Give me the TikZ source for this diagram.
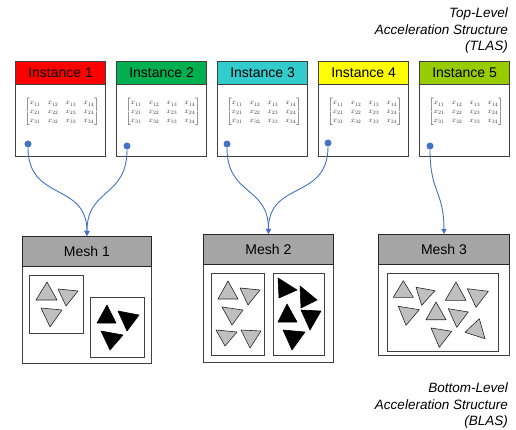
\documentclass[tikz,border=0pt]{standalone}
\usepackage[no-math]{fontspec}
\usepackage{amsmath}
\usetikzlibrary{arrows.meta}
\newfontfamily\arialf{Liberation Sans}
\definecolor{cRed}{HTML}{FF0000}
\definecolor{cGreen}{HTML}{00B050}
\definecolor{cTeal}{HTML}{33CCCC}
\definecolor{cYellow}{HTML}{FFFF00}
\definecolor{cLime}{HTML}{99CC00}
\definecolor{cHead}{HTML}{A6A6A6}
\definecolor{cTri}{HTML}{BFBFBF}
\definecolor{cBlue}{HTML}{4472C4}
\newcommand\mymat{$\begin{bmatrix}
x_{11} & x_{12} & x_{13} & x_{14}\\
x_{21} & x_{22} & x_{23} & x_{24}\\
x_{31} & x_{32} & x_{33} & x_{34}
\end{bmatrix}$}
\newcommand\gtri[3]{\filldraw[gtri] #1 -- #2 -- #3 -- cycle;}
\newcommand\btri[3]{\filldraw[btri] #1 -- #2 -- #3 -- cycle;}
\begin{document}
\begin{tikzpicture}[x=1pt,y=-1pt,
  insthead/.style={draw=black!75, line width=1.1pt, minimum width=90pt, minimum height=23pt,
    anchor=north west, inner sep=0pt, font=\arialf\fontsize{14}{16}\selectfont},
  instbody/.style={draw=black!75, line width=1.1pt, minimum width=90pt, minimum height=72pt,
    anchor=north west, inner sep=0pt},
  meshhead/.style={draw=black!85, line width=0.9pt, fill=cHead, minimum height=30pt,
    anchor=north west, inner sep=0pt, font=\arialf\fontsize{14}{16}\selectfont},
  meshbody/.style={draw=black!75, line width=0.9pt, anchor=north west, inner sep=0pt},
  innerbox/.style={draw=black!75, line width=0.8pt},
  gtri/.style={fill=cTri, draw=black!85, line width=0.6pt, line join=round},
  btri/.style={fill=black, draw=black, line width=0.6pt, line join=round},
  mat/.style={scale=0.74, text=black!80, inner sep=0pt},
  dot/.style={circle, fill=cBlue, inner sep=0pt, minimum size=7pt},
  conn/.style={draw=cBlue, line width=0.9pt},
  arr/.style={conn, -{Triangle[length=5pt,width=5pt]}},
  side/.style={font=\arialf\itshape\fontsize{13.5}{16.5}\selectfont, align=right, inner sep=0pt, text=black}
]
\useasboundingbox (0,0) rectangle (516,430);

% Instances
\foreach \i/\x/\c in {1/15/cRed,2/116/cGreen,3/217/cTeal,4/318/cYellow,5/419/cLime}{
  \node[instbody] (b\i) at (\x,84) {};
  \node[insthead, fill=\c] (h\i) at (\x,61) {Instance \i};
  \node[mat] (mx\i) at (\x+47,112) {\mymat};
}
\node[dot] (d1) at (28,144) {};
\node[dot] (d2) at (127,146) {};
\node[dot] (d3) at (227,144) {};
\node[dot] (d4) at (328,143) {};
\node[dot] (d5) at (430,146) {};

% Meshes
\node[meshbody, minimum width=129pt, minimum height=97pt] (mb1) at (22,266) {};
\node[meshhead, minimum width=129pt] (m1) at (22,236) {Mesh 1};
\node[meshbody, minimum width=130pt, minimum height=98pt] (mb2) at (203,264) {};
\node[meshhead, minimum width=130pt] (m2) at (203,234) {Mesh 2};
\node[meshbody, minimum width=131pt, minimum height=91pt] (mb3) at (378,264) {};
\node[meshhead, minimum width=131pt] (m3) at (378,234) {Mesh 3};

% Connectors
\draw[arr] (d1) to[out=-90,in=90,looseness=1.3] (m1.north);
\draw[arr] (d2) to[out=-90,in=90,looseness=1.3] (m1.north);
\draw[arr] (d3) to[out=-90,in=90,looseness=1.3] (m2.north);
\draw[arr] (d4) to[out=-90,in=90,looseness=1.3] (m2.north);
\draw[arr] (d5) to[out=-90,in=90,looseness=1.3] (m3.north);

% Mesh 1 contents
\draw[innerbox] (29,275) rectangle (83,333);
\gtri{(47,282)}{(36,300)}{(57,300)}
\gtri{(58,289)}{(78,291)}{(66,306)}
\gtri{(41,308)}{(62,310)}{(50,327)}
\draw[innerbox] (90,297) rectangle (144,357);
\btri{(107,305)}{(97,323)}{(116,323)}
\btri{(118,311)}{(139,315)}{(127,331)}
\btri{(101,331)}{(123,335)}{(110,350)}

% Mesh 2 contents
\draw[innerbox] (211,273) rectangle (264,355);
\gtri{(228,281)}{(218,299)}{(238,299)}
\gtri{(240,288)}{(260,290)}{(248,305)}
\gtri{(222,307)}{(243,310)}{(232,325)}
\gtri{(216,330)}{(237,332)}{(225,346)}
\gtri{(241,330)}{(261,331)}{(250,348)}
\draw[innerbox] (273,273) rectangle (324,355);
\btri{(278,278)}{(297,290)}{(279,298)}
\btri{(300,286)}{(317,300)}{(301,308)}
\btri{(287,304)}{(278,322)}{(297,322)}
\btri{(301,310)}{(321,311)}{(310,330)}
\btri{(283,330)}{(305,332)}{(292,350)}

% Mesh 3 contents
\draw[innerbox] (387,273) rectangle (498,351);
\gtri{(403.3,280.7)}{(393.3,297.3)}{(413.3,297.3)}
\gtri{(416,287.3)}{(435,290.7)}{(421.7,305.3)}
\gtri{(456,282)}{(445.3,300.3)}{(466,300.3)}
\gtri{(467.3,288.7)}{(488.3,291.3)}{(476,307.3)}
\gtri{(398.3,306.3)}{(419.3,309.7)}{(406,325.3)}
\gtri{(436,302)}{(426,319.7)}{(446,319.7)}
\gtri{(448.3,308.7)}{(468.3,312)}{(456.7,327.3)}
\gtri{(465,332.3)}{(479.3,318.7)}{(485,338.7)}
\gtri{(431,328)}{(451.7,331.3)}{(439.3,347.3)}

% Side labels
\node[side, anchor=north east] (tlas) at (508,8) {Top-Level\\Acceleration Structure\\(TLAS)};
\node[side, anchor=north east] (blas) at (508,383) {Bottom-Level\\Acceleration Structure\\(BLAS)};
\end{tikzpicture}
\end{document}
